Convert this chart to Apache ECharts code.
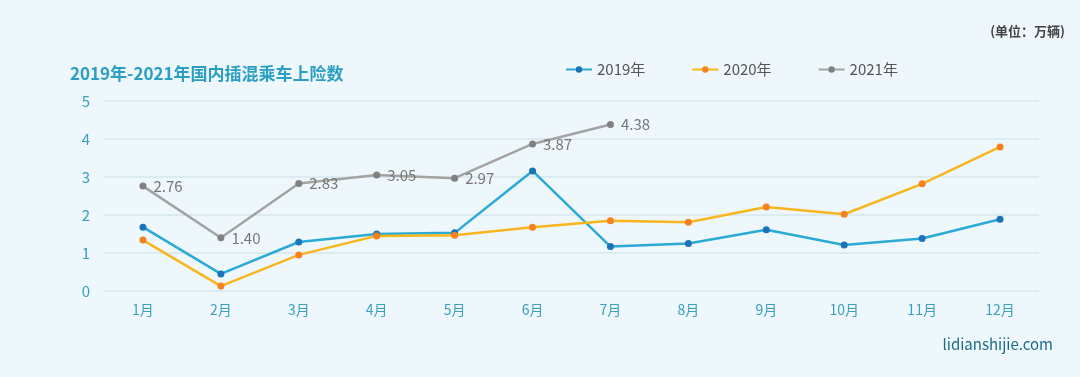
<!DOCTYPE html>
<html>
<head>
<meta charset="utf-8">
<script src="https://cdn.jsdelivr.net/npm/echarts@6/dist/echarts.min.js"></script>
<style>
  html, body { margin: 0; padding: 0; background: #eef7fb; }
  #chart { width: 1080px; height: 377px; }
</style>
</head>
<body>
<div id="chart"></div>
<script>
const months = ['1月', '2月', '3月', '4月', '5月', '6月', '7月', '8月', '9月', '10月', '11月', '12月'];
const yTicks = [0, 1, 2, 3, 4, 5];
const s2019 = [1.68, 0.45, 1.29, 1.50, 1.53, 3.16, 1.17, 1.25, 1.61, 1.21, 1.38, 1.89];
const s2020 = [1.34, 0.13, 0.95, 1.45, 1.47, 1.68, 1.85, 1.81, 2.21, 2.02, 2.82, 3.79];
const s2021 = [2.76, 1.40, 2.83, 3.05, 2.97, 3.87, 4.38];

const font = '"Noto Sans CJK SC", "Noto Sans", sans-serif';
const chart = echarts.init(document.getElementById('chart'));

chart.setOption({
  backgroundColor: '#eef7fb',
  textStyle: { fontFamily: font },
  title: [
    {
      text: '2019年-2021年国内插混乘车上险数',
      left: 65, top: 60,
      textStyle: { color: '#2a9fc2', fontSize: 17, fontWeight: 'bold', fontFamily: font }
    },
    {
      text: '(单位：万辆)',
      right: 10, top: 20,
      textStyle: { color: '#444', fontSize: 13, fontWeight: 'bold', fontFamily: font }
    },
    {
      text: 'lidianshijie.com',
      right: 22, top: 332,
      textStyle: { color: '#1d6a86', fontSize: 15, fontWeight: 'normal', fontFamily: font }
    }
  ],
  legend: {
    left: 560, top: 57,
    itemGap: 46,
    itemWidth: 26, itemHeight: 8,
    textStyle: { color: '#555', fontSize: 15, fontFamily: font },
    data: ['2019年', '2020年', '2021年']
  },
  grid: { left: 104, right: 41, top: 101, bottom: 86 },
  xAxis: {
    type: 'category',
    data: months,
    boundaryGap: true,
    axisLine: { show: false },
    axisTick: { show: false },
    axisLabel: { color: '#3a9fc0', fontSize: 14, margin: 12 }
  },
  yAxis: {
    type: 'value',
    min: yTicks[0], max: yTicks[yTicks.length - 1], interval: 1,
    axisLine: { show: false },
    axisTick: { show: false },
    axisLabel: { color: '#3a9fc0', fontSize: 15, margin: 14 },
    splitLine: { lineStyle: { color: '#d6e6ee', width: 1.5 } }
  },
  series: [
    {
      name: '2019年', type: 'line', data: s2019,
      symbol: 'circle', symbolSize: 7,
      lineStyle: { color: '#2aaad4', width: 2.5 },
      itemStyle: { color: '#1b73b8' }
    },
    {
      name: '2020年', type: 'line', data: s2020,
      symbol: 'circle', symbolSize: 7,
      lineStyle: { color: '#f8b51d', width: 2.5 },
      itemStyle: { color: '#f5821f' }
    },
    {
      name: '2021年', type: 'line', data: s2021,
      symbol: 'circle', symbolSize: 7,
      lineStyle: { color: '#a3a3a3', width: 2.5 },
      itemStyle: { color: '#808080' },
      label: {
        show: true, position: 'right', distance: 7,
        color: '#777', fontSize: 15,
        formatter: p => p.value.toFixed(2)
      }
    }
  ]
});
</script>
</body>
</html>
